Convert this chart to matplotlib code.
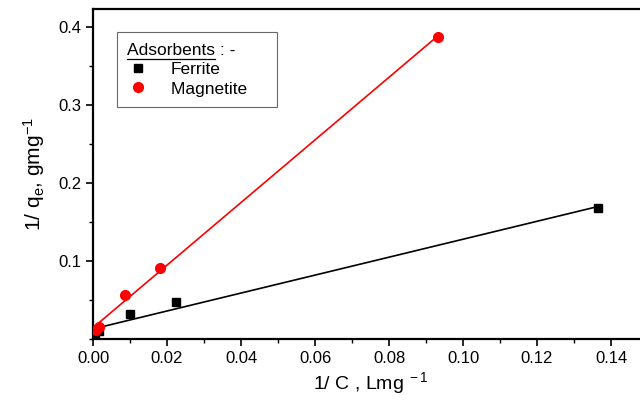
import numpy as np
import matplotlib
matplotlib.use("Agg")
import matplotlib.pyplot as plt
from matplotlib.ticker import MultipleLocator
from matplotlib.lines import Line2D

plt.rcParams['font.family'] = ['Liberation Sans', 'DejaVu Sans']
plt.rcParams['mathtext.fontset'] = 'custom'
plt.rcParams['mathtext.rm'] = 'Liberation Sans'
plt.rcParams['mathtext.it'] = 'Liberation Sans'

# data
ferrite_x = [0.0005, 0.0015, 0.0100, 0.0224, 0.1365]
ferrite_y = [0.004, 0.010, 0.032, 0.047, 0.168]
magnetite_x = [0.0008, 0.0015, 0.0086, 0.0180, 0.0932]
magnetite_y = [0.011, 0.016, 0.057, 0.091, 0.387]

fig = plt.figure(figsize=(6.4, 4.01), dpi=100)
# right edge of the axes sits just past the figure edge, as in the crop
ax = fig.add_axes([93/640, 62/401, 555/640, 330/401])

# linear fits
for xs, ys, c in [(ferrite_x, ferrite_y, 'black'), (magnetite_x, magnetite_y, 'red')]:
    k, b = np.polyfit(xs, ys, 1)
    xx = np.array([0, max(xs)])
    ax.plot(xx, k*xx + b, color=c, lw=1.2, zorder=2)

ax.plot(ferrite_x, ferrite_y, 's', color='black', ms=6, ls='none', label='Ferrite', zorder=3)
ax.plot(magnetite_x, magnetite_y, 'o', color='red', ms=7, ls='none', label='Magnetite    ', zorder=3)

ax.set_xlim(0, 0.15)
ax.set_ylim(0, 0.423)
ax.set_xticks(np.arange(0, 0.141, 0.02))
ax.set_yticks([0.1, 0.2, 0.3, 0.4])
ax.xaxis.set_minor_locator(MultipleLocator(0.01))
ax.yaxis.set_minor_locator(MultipleLocator(0.05))
ax.tick_params(which='major', direction='out', length=5, width=1.2, labelsize=12, top=False, right=False)
ax.tick_params(which='minor', direction='out', length=3, width=1.0, top=False, right=False)
for s in ax.spines.values():
    s.set_linewidth(1.6)

ax.set_xlabel(r'1/ C , Lmg$^{\mathregular{\ -1}}$', fontsize=14, labelpad=3)
ax.set_ylabel(r'1/ q$_{\mathregular{e}}$, gmg$^{\mathregular{-1}}$', fontsize=15, labelpad=8)

leg = ax.legend(loc='upper left', bbox_to_anchor=(0.043, 0.93), title='Adsorbents : -',
                alignment='left', fontsize=12.5, title_fontsize=12.5, frameon=True,
                fancybox=False, edgecolor='#444444', borderpad=0.6,
                handlelength=1.2, handletextpad=1.3, labelspacing=0.25, borderaxespad=0)
leg.get_frame().set_linewidth(0.8)

# underline "Adsorbents" in the legend title
fig.canvas.draw()
r = fig.canvas.get_renderer()
tb = leg.get_title().get_window_extent(r)
tmp = fig.text(0, 0, 'Adsorbents', fontsize=12.5)
w = tmp.get_window_extent(r).width
tmp.remove()
y0 = tb.y0 - 1
fig.add_artist(Line2D([tb.x0/640, (tb.x0 + w)/640], [y0/401, y0/401],
                      transform=fig.transFigure, color='black', lw=0.9))

fig.savefig('out.png', dpi=100)
